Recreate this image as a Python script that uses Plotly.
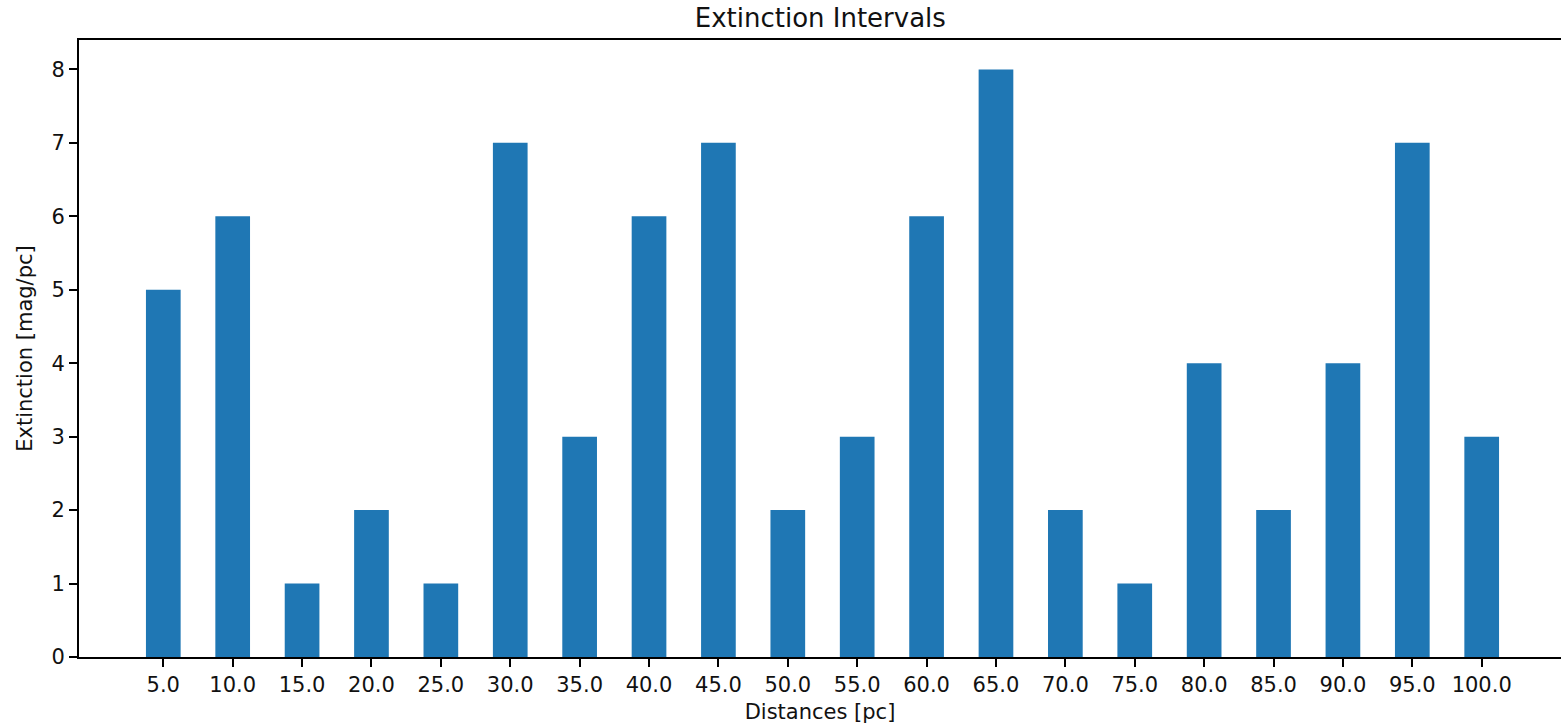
import plotly.graph_objects as go

# Extinction per distance bin
distances = [5, 10, 15, 20, 25, 30, 35, 40, 45, 50,
             55, 60, 65, 70, 75, 80, 85, 90, 95, 100]
extinction = [5, 6, 1, 2, 1, 7, 3, 6, 7, 2,
              3, 6, 8, 2, 1, 4, 2, 4, 7, 3]
tick_labels = [f"{d:.1f}" for d in distances]
y_ticks = [0, 1, 2, 3, 4, 5, 6, 7, 8]

FONT = "DejaVu Sans"
TEXT = "#111111"
BAR = "#1f77b4"

fig = go.Figure(
    go.Bar(
        x=distances,
        y=extinction,
        width=2.5,
        marker=dict(color=BAR, line=dict(width=0)),
        hoverinfo="x+y",
    )
)

fig.update_layout(
    width=1561,
    height=726,
    margin=dict(l=79, r=0, t=40, b=69, pad=0),
    paper_bgcolor="white",
    plot_bgcolor="white",
    showlegend=False,
    font=dict(family=FONT, size=21, color=TEXT),
    title=dict(
        text="Extinction Intervals",
        font=dict(family=FONT, size=26, color=TEXT),
        x=0.5255, xanchor="center",
        y=1 - 18 / 726, yanchor="middle", yref="container",
    ),
)

fig.update_xaxes(
    range=[-1.074, 105.714],
    tickmode="array",
    tickvals=distances,
    ticktext=tick_labels,
    ticks="outside",
    ticklen=8,
    tickwidth=1.7,
    tickcolor="#000000",
    showline=True,
    linecolor="#000000",
    linewidth=1.7,
    mirror=True,
    showgrid=False,
    zeroline=False,
    tickfont=dict(family=FONT, size=21, color=TEXT),
    title=dict(text="Distances [pc]", font=dict(family=FONT, size=21, color=TEXT), standoff=8),
)

fig.update_yaxes(
    range=[0, 8.4],
    tickmode="array",
    tickvals=y_ticks,
    ticks="outside",
    ticklen=8,
    tickwidth=1.7,
    tickcolor="#000000",
    showline=True,
    linecolor="#000000",
    linewidth=1.7,
    mirror=False,
    showgrid=False,
    zeroline=False,
    tickfont=dict(family=FONT, size=21, color=TEXT),
    title=dict(text="Extinction [mag/pc]", font=dict(family=FONT, size=21, color=TEXT), standoff=13),
)

fig.write_html("out.html")
